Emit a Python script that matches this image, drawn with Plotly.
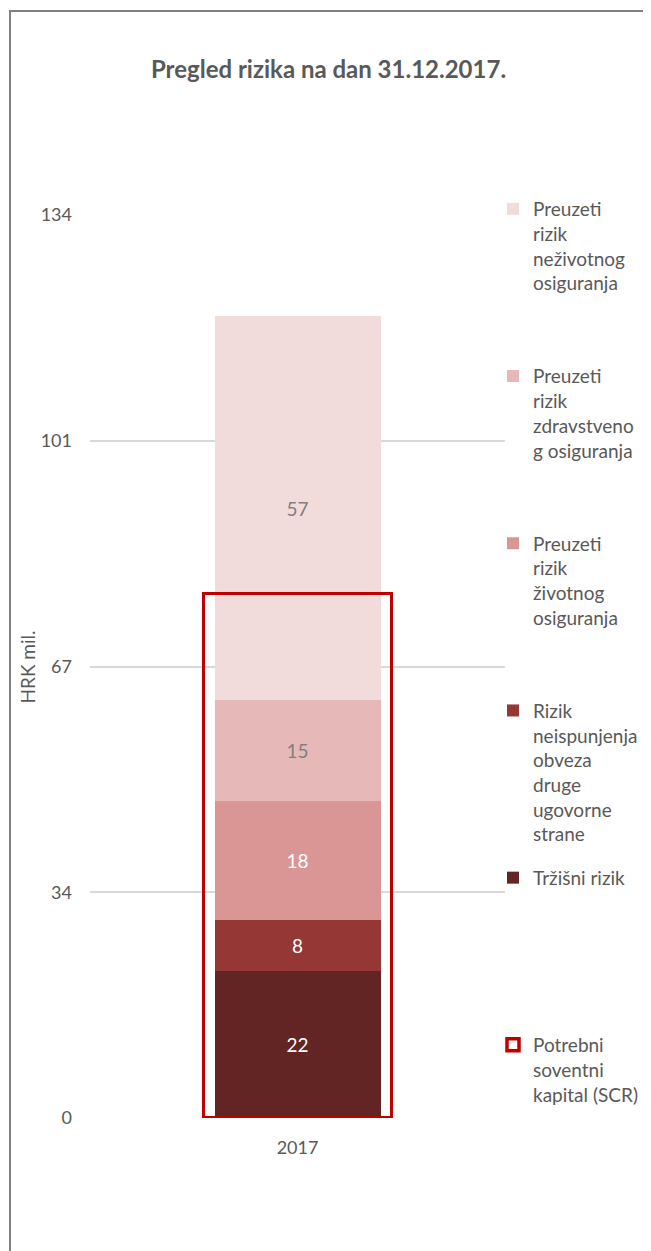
import plotly.graph_objects as go

categories = ["2017"]
series_names = [
    "Tržišni rizik",
    "Rizik<br>neispunjenja<br>obveza<br>druge<br>ugovorne<br>strane",
    "Preuzeti<br>rizik<br>životnog<br>osiguranja",
    "Preuzeti<br>rizik<br>zdravstveno<br>g osiguranja",
    "Preuzeti<br>rizik<br>neživotnog<br>osiguranja",
]
series_values = [21.8, 7.6, 17.6, 15.0, 57.0]
series_colors = ["#632523", "#953735", "#D99694", "#E6B9B8", "#F2DCDB"]
label_colors = ["#FFFFFF", "#FFFFFF", "#FFFFFF", "#7F7F7F", "#7F7F7F"]
legend_ranks = [5, 4, 3, 2, 1]
scr_name = "Potrebni<br>soventni<br>kapital (SCR)"
scr_value = [77.8]
tick_vals = [0, 33.5, 67, 100.5, 134]
tick_text = ["0", "34", "67", "101", "134"]

FONT = "Lato"
GREY = "#595959"
SLOT_LINES = 6
O = 8  # default page body margin


def pad(label):
    n = label.count("<br>") + 1
    return label + "<br> " * (SLOT_LINES - n)


fig = go.Figure()
for name, val, col, lc, rk in zip(series_names, series_values, series_colors, label_colors, legend_ranks):
    fig.add_trace(go.Bar(
        x=categories, y=[val], name=pad(name), marker=dict(color=col, line=dict(width=0)),
        width=0.4, text=[f"{val:.0f}"], textposition="inside", insidetextanchor="middle",
        textfont=dict(color=lc, size=19, family=FONT), legendgroup=name, legendrank=rk,
        hoverinfo="skip", constraintext="none",
    ))

fig.add_trace(go.Bar(
    x=categories, y=scr_value, name=pad(scr_name), xaxis="x2",
    marker=dict(color="rgba(0,0,0,0)", line=dict(color="#C00000", width=3.5)),
    width=0.452, legendgroup="scr", legendrank=6, hoverinfo="skip",
))

W, H = 651 - O, 1251 - O
plot_l, plot_r, plot_t, plot_b = 90 - O, 505 - O, 215 - O, 1118 - O
pw = plot_r - plot_l
ph = plot_b - plot_t

fig.update_layout(
    width=W, height=H,
    margin=dict(l=plot_l, r=W - plot_r, t=plot_t, b=H - plot_b, autoexpand=False),
    barmode="stack",
    paper_bgcolor="white", plot_bgcolor="white",
    font=dict(family=FONT, color=GREY, size=18),
    title=dict(text="<b>Pregled rizika na dan 31.12.2017.</b>", x=(328.5 - O) / W, xref="container",
               xanchor="center", y=1 - (70 - O) / H, yref="container", yanchor="middle",
               font=dict(size=24, color=GREY, family=FONT)),
    xaxis=dict(type="category", range=[-0.5, 0.5], showgrid=False, showline=False, ticks="",
               tickfont=dict(size=18, color=GREY), ticklabelstandoff=17, fixedrange=True),
    xaxis2=dict(type="category", range=[-0.5, 0.5], overlaying="x", visible=False),
    yaxis=dict(range=[0, 134], tickvals=tick_vals, ticktext=tick_text, showgrid=True,
               gridcolor="#D9D9D9", gridwidth=1.5, zeroline=False, showline=False, ticks="",
               tickfont=dict(size=18, color=GREY), ticklabelstandoff=17),
    legend=dict(x=(493 - plot_l - O) / pw, xanchor="left", y=(plot_b - (190 - O)) / ph, yanchor="top",
                traceorder="grouped", tracegroupgap=16, valign="top", maxheight=1500,
                font=dict(size=19, color=GREY, family=FONT), bgcolor="rgba(0,0,0,0)"),
    showlegend=True,
    annotations=[dict(text="HRK mil.", textangle=-90, x=(26.5 - O - plot_l) / pw, xref="paper",
                      y=(plot_b - (667 - O)) / ph, yref="paper", showarrow=False,
                      font=dict(size=19, color=GREY), xanchor="center", yanchor="middle")],
    shapes=[dict(type="rect", xref="paper", yref="paper",
                 x0=(10 - O - plot_l) / pw, x1=(W + 20 - plot_l) / pw,
                 y0=(plot_b - (H + 20)) / ph, y1=(plot_b - (11 - O)) / ph,
                 line=dict(color="#7F7F7F", width=2), fillcolor="rgba(0,0,0,0)", layer="below")],
)

fig.write_html("out.html")
